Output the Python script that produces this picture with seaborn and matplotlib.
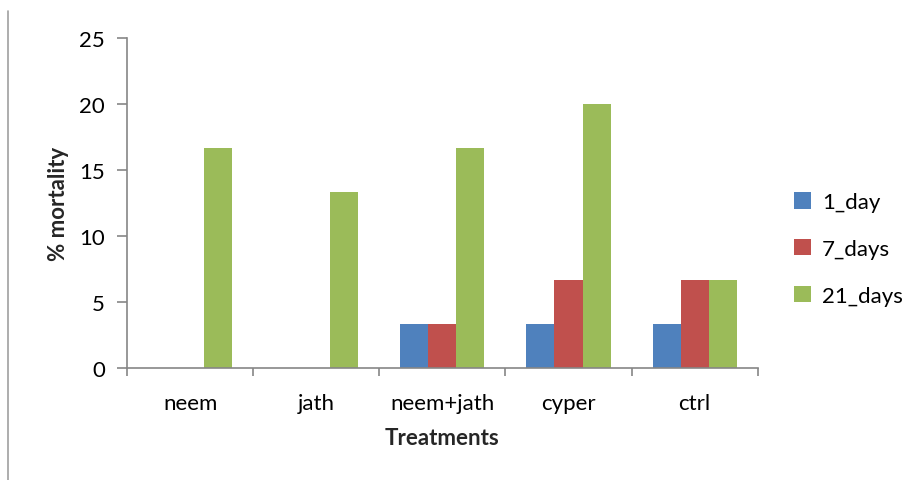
import matplotlib
matplotlib.use("Agg")
import matplotlib.pyplot as plt
import matplotlib.lines as mlines
import seaborn as sns
import pandas as pd

treatments = ["neem", "jath", "neem+jath", "cyper", "ctrl"]
series = ["1_day", "7_days", "21_days"]
day1 = [0, 0, 3.33, 3.33, 3.33]
day7 = [0, 0, 3.33, 6.67, 6.67]
day21 = [16.67, 13.33, 16.67, 20.0, 6.67]
y_ticks = [0, 5, 10, 15, 20, 25]

colors = ["#4F81BD", "#C0504D", "#9BBB59"]
axis_gray = "#868686"

df = pd.DataFrame({
    "Treatments": treatments * 3,
    "series": [s for s in series for _ in treatments],
    "value": day1 + day7 + day21,
})

sns.set_theme(style="white")
plt.rcParams["font.family"] = ["Lato", "DejaVu Sans"]

fig = plt.figure(figsize=(9.14, 4.81), dpi=100)
ax = fig.add_axes([0.139, 0.233, 0.690, 0.686])

sns.barplot(data=df, x="Treatments", y="value", hue="series",
            hue_order=series, order=treatments, palette=colors,
            width=0.667, saturation=1, linewidth=0, errorbar=None, ax=ax)

ax.set_ylim(0, 25)
ax.set_yticks(y_ticks)
ax.set_xlim(-0.5, len(treatments) - 0.5)
ax.set_xticks([i - 0.5 for i in range(len(treatments) + 1)], minor=False)
ax.set_xticklabels([])
ax.set_xticks(range(len(treatments)), minor=True)
ax.set_xticklabels(treatments, minor=True)

ax.tick_params(axis="x", which="major", direction="out", length=6,
               width=1.2, color=axis_gray, bottom=True)
ax.tick_params(axis="x", which="minor", length=0, labelsize=16, pad=18,
               labelcolor="black")
ax.tick_params(axis="y", direction="out", length=7, width=1.2,
               color=axis_gray, left=True, labelsize=16, pad=9,
               labelcolor="black")

for side in ["top", "right"]:
    ax.spines[side].set_visible(False)
for side in ["left", "bottom"]:
    ax.spines[side].set_color(axis_gray)
    ax.spines[side].set_linewidth(1.2)

ax.set_xlabel("Treatments", fontsize=16, fontweight="bold", labelpad=10)
ax.set_ylabel("% mortality", fontsize=16, fontweight="bold", labelpad=7)

leg = ax.legend(loc="center left", bbox_to_anchor=(794 / 914, 1 - 250 / 481),
                bbox_transform=fig.transFigure, frameon=False,
                fontsize=16, handlelength=0.75, handleheight=0.75,
                labelspacing=1.2, handletextpad=0.5, borderaxespad=0,
                borderpad=0)
for t in leg.get_texts():
    t.set_color("black")

# thin frame line along the left edge
fig.add_artist(mlines.Line2D([8 / 914, 8 / 914], [0, 1 - 12 / 481],
                             transform=fig.transFigure, color="#A0A0A0",
                             linewidth=1.2))

fig.savefig("out.png", dpi=100, facecolor="white")
